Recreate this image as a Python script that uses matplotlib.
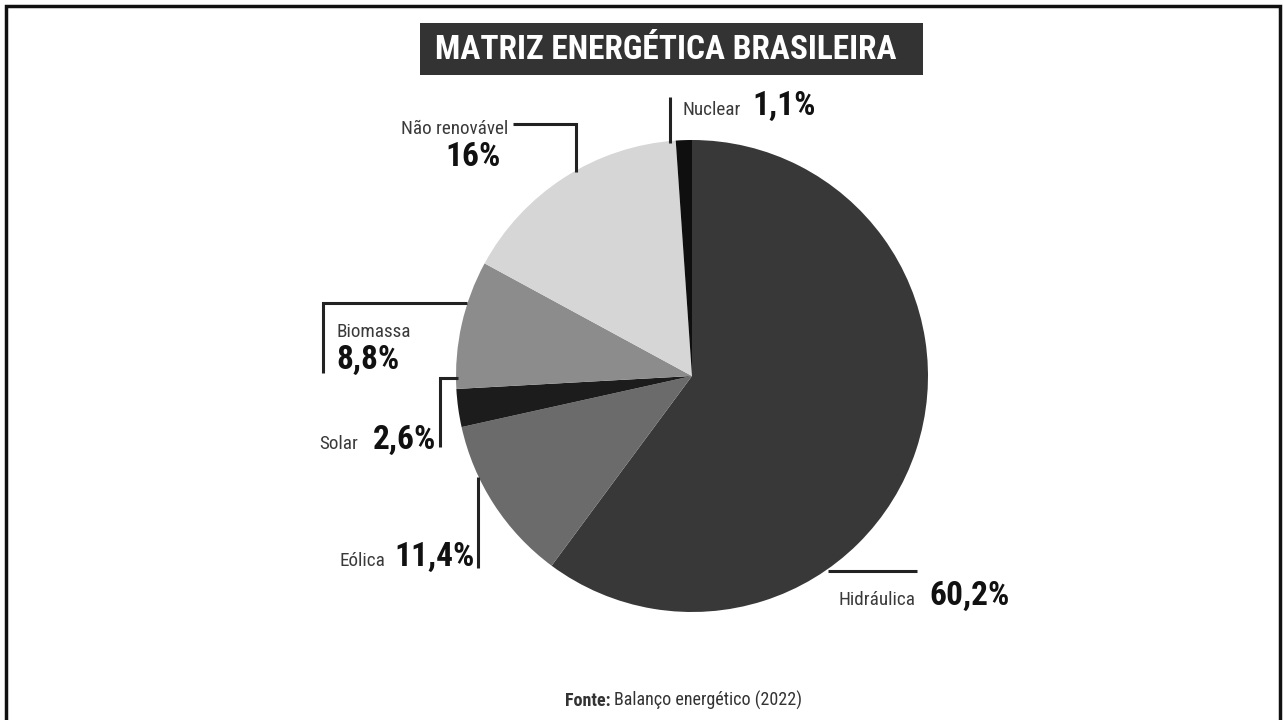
import matplotlib
matplotlib.use("Agg")
import matplotlib.pyplot as plt
from matplotlib import font_manager as fm
from matplotlib.patches import Rectangle

# Data
sources = ["Hidráulica", "Eólica", "Solar", "Biomassa", "Não renovável", "Nuclear"]
shares = [60.2, 11.4, 2.6, 8.8, 16.0, 1.1]
share_labels = ["60,2%", "11,4%", "2,6%", "8,8%", "16%", "1,1%"]
colors = ["#383838", "#6b6b6b", "#1c1c1c", "#8c8c8c", "#d6d6d6", "#0f0f0f"]

title = "MATRIZ ENERGÉTICA BRASILEIRA"
source_bold = "Fonte:"
source_text = "Balanço energético (2022)"

# Pick a condensed face if one is installed
ttf = fm.fontManager.ttflist
names = {f.name for f in ttf}
FAM = "DejaVu Sans"
STRETCH = "normal"
for cand in ["Roboto Condensed", "Liberation Sans Narrow", "Open Sans Condensed",
             "Noto Sans Condensed", "Arial Narrow"]:
    if cand in names:
        FAM = cand
        break
else:
    if any(f.name == "DejaVu Sans" and f.stretch == "condensed" for f in ttf):
        FAM, STRETCH = "DejaVu Sans", "condensed"
    elif "Roboto" in names:
        FAM = "Roboto"

W, H = 1284, 720
fig = plt.figure(figsize=(W / 100, H / 100), dpi=100)
ax = fig.add_axes([0, 0, 1, 1])


def Y(y):
    return H - y


def txt(x, y, s, size, weight="normal", color="#3a3a3a", ha="left"):
    ax.text(x, Y(y), s, fontsize=size, fontweight=weight, color=color, ha=ha,
            va="baseline", family=FAM, fontstretch=STRETCH)


# Pie
ax.pie(shares, colors=colors, startangle=90, counterclock=False,
       center=(692, Y(376)), radius=236, frame=True,
       wedgeprops=dict(linewidth=0))
ax.set_xlim(0, W)
ax.set_ylim(0, H)
ax.set_aspect("equal")
ax.axis("off")

# Outer frame
ax.plot([6, 6, 1280, 1280], [0, Y(6), Y(6), 0], color="#111111", lw=2.5,
        solid_joinstyle="miter", clip_on=False)

# Title banner
ax.add_patch(Rectangle((420, Y(75)), 503, 52, facecolor="#333333", edgecolor="none"))
ax.text(666, Y(50), title, fontsize=24, fontweight="bold", color="white",
        ha="center", va="center", family=FAM, fontstretch=STRETCH)

# Leader lines
lc = "#222222"
lw = 2.2
leaders = [
    [(670, 97), (670, 143)],
    [(513, 124), (576, 124), (576, 172)],
    [(323, 373), (323, 303), (467, 303)],
    [(440, 447), (440, 378), (458, 378)],
    [(478, 568), (478, 477)],
    [(828, 571), (917, 571)],
]
for pts in leaders:
    ax.plot([p[0] for p in pts], [Y(p[1]) for p in pts], color=lc, lw=lw,
            solid_joinstyle="miter", solid_capstyle="butt")

name_size = 13.8
val_size = 24
vc = "#111111"

# Nuclear
txt(683, 115, sources[5], name_size)
txt(752, 115, share_labels[5], val_size, "bold", vc)
# Não renovável
txt(508, 134, sources[4], name_size, ha="right")
txt(501, 166, share_labels[4], val_size, "bold", vc, ha="right")
# Biomassa
txt(336, 337, sources[3], name_size)
txt(336, 369, share_labels[3], val_size, "bold", vc)
# Solar
txt(358, 449, sources[2], name_size, ha="right")
txt(436, 449, share_labels[2], val_size, "bold", vc, ha="right")
# Eólica
txt(385, 566, sources[1], name_size, ha="right")
txt(475, 566, share_labels[1], val_size, "bold", vc, ha="right")
# Hidráulica
txt(838, 605, sources[0], name_size)
txt(929, 605, share_labels[0], val_size, "bold", vc)

# Source line
txt(610, 706, source_bold, 13, "bold", "#333333", ha="right")
txt(614, 706, source_text, 13, "normal", "#333333")

fig.savefig("out.png", dpi=100, facecolor="white")
